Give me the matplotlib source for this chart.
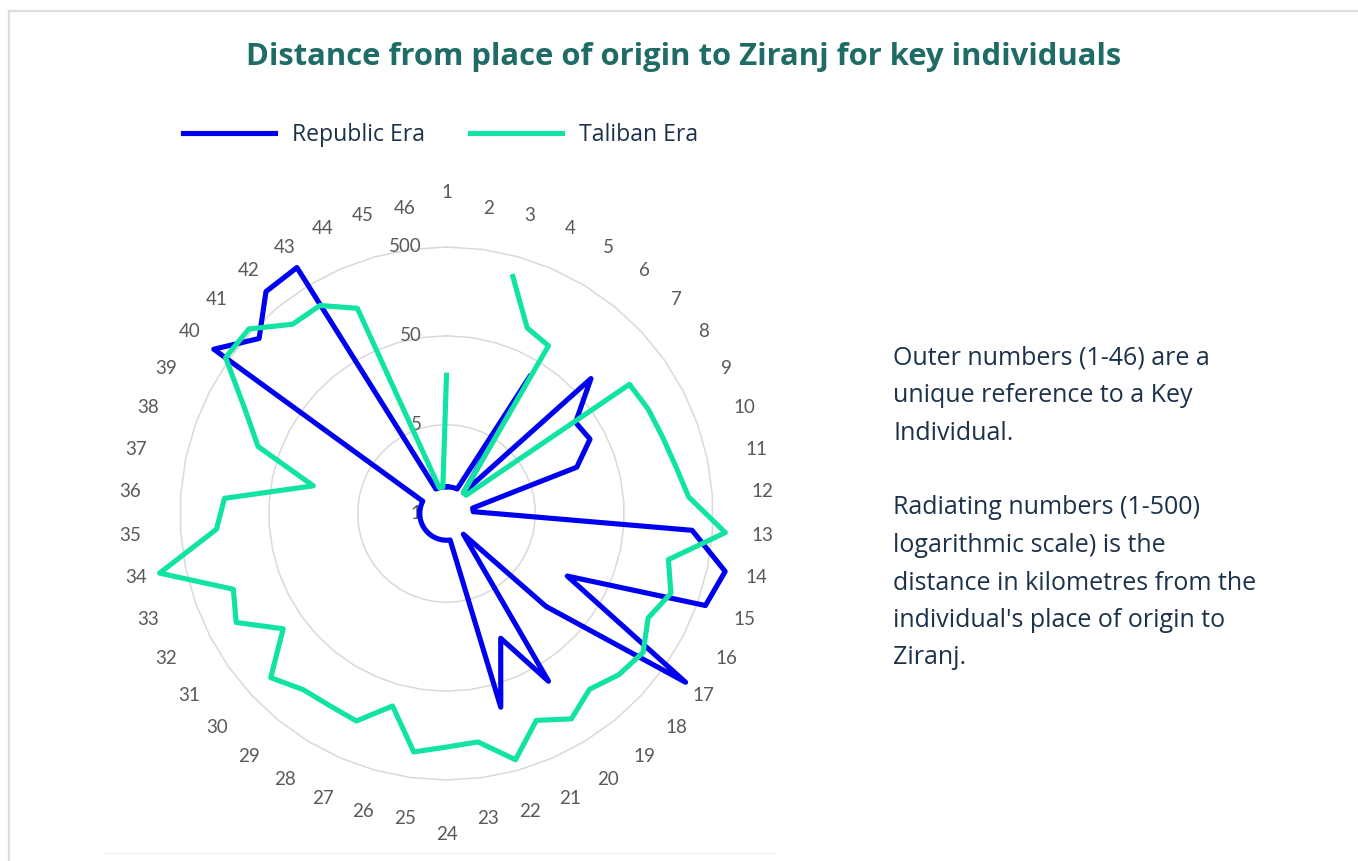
import numpy as np
import matplotlib
matplotlib.use("Agg")
import matplotlib.pyplot as plt
from matplotlib.lines import Line2D

# ---------------- data ----------------
categories = [str(i) for i in range(1, 47)]

republic_era = [1, 1, 1, 1, 33, 1, 84, 30, 33, 18,
                1, 1, 295, 800, 620, 17, 985, 17, 1, 81,
                17, 92, 1, 1, 1, 1, 1, 1, 1, 1,
                1, 1, 1, 1, 1, 1, 1, 1, 1, 805,
                385, 830, 870, 1, 1, 1]

taliban_era = [18, np.nan, 294, 95, 81, 1, 1, 166, 180, 190,
               215, 270, 700, 178, 240, 180, 256, 227, 178, 254,
               173, 378, 197, 213, 256, 89, 176, 170, 180, 255,
               89, 232, 176, 995, 197, 160, 17, 89, 180, 553,
               553, 279, 275, 165, 1, 1]

series_names = ["Republic Era", "Taliban Era"]
radial_ticks = [0.5, 5, 50, 500]
radial_tick_labels = ["1", "5", "50", "500"]

title = "Distance from place of origin to Ziranj for key individuals"
note_lines = ["Outer numbers (1-46) are a",
              "unique reference to a Key",
              "Individual.",
              "",
              "Radiating numbers (1-500)",
              "logarithmic scale) is the",
              "distance in kilometres from the",
              "individual's place of origin to",
              "Ziranj."]

# ---------------- style ----------------
plt.rcParams["font.family"] = ["Lato", "DejaVu Sans"]
UI_FONT = ["Open Sans", "DejaVu Sans"]
BLUE = "#0000f0"
GREEN = "#10e3a2"
GRID = "#d9d9d9"
LABEL = "#595959"
NAVY = "#1c324b"
TEAL = "#1f6b65"

W, H = 1358, 861
fig = plt.figure(figsize=(W / 100, H / 100), dpi=100)
renderer = fig.canvas.get_renderer()


def fit_size(text, target_px, family, weight="normal", base=20.0):
    t = fig.text(0, 0, text, fontsize=base, family=family, fontweight=weight)
    w = t.get_window_extent(renderer).width
    t.remove()
    return base * target_px / w


cx, cy = 446.5, 513.5          # centre of radar in pixels
ppd = 266.5 / 3                # pixels per decade
rmin, rmax = 0.5, 1200
R = ppd * np.log10(rmax / rmin)
ax = fig.add_axes([(cx - R) / W, (H - cy - R) / H, 2 * R / W, 2 * R / H],
                  projection="polar")
ax.set_theta_zero_location("N")
ax.set_theta_direction(-1)
ax.set_rscale("log")
ax.set_rlim(rmin, rmax)
ax.grid(False)
ax.set_xticks([])
ax.set_yticks([])
ax.set_yticks([], minor=True)
ax.spines["polar"].set_visible(False)
ax.patch.set_alpha(0)

n = len(categories)
theta = 2 * np.pi * np.arange(n) / n
theta_c = np.append(theta, 2 * np.pi)

# polygon gridlines
for t in radial_ticks[1:]:
    ax.plot(theta_c, [t] * (n + 1), color=GRID, lw=1.1, zorder=1)

for t, lab in zip(radial_ticks, radial_tick_labels):
    ax.annotate(lab, xy=(0, t), xytext=(-25, 0), textcoords="offset pixels",
                ha="right", va="center", fontsize=13.5, color=LABEL, zorder=2)

# category labels: Excel-like placement (further out at the sides)
for th, c in zip(theta, categories):
    s = abs(np.sin(th))
    rpx = 321 if s < 0.01 else 306 + 11 * s
    ax.text(th, rmin * 10 ** (rpx / ppd), c, ha="center", va="center",
            fontsize=13.5, color=LABEL)

rep = np.append(republic_era, republic_era[0])
tal = np.append(taliban_era, taliban_era[0])
l1, = ax.plot(theta_c, rep, color=BLUE, lw=3.7, zorder=3, clip_on=False,
              solid_joinstyle="round")
l2, = ax.plot(theta_c, tal, color=GREEN, lw=3.7, zorder=4, clip_on=False,
              solid_joinstyle="round")

# legend
leg_fs = fit_size(series_names[0], 133, UI_FONT)
em = leg_fs * 100 / 72
fig.legend([l1, l2], series_names, loc="center left",
           bbox_to_anchor=(183 / W, 1 - 135 / H), ncol=2, frameon=False,
           prop={"family": UI_FONT, "size": leg_fs},
           handlelength=92 / em, handletextpad=17 / em,
           columnspacing=45 / em, borderpad=0, borderaxespad=0,
           labelcolor=NAVY)

# title
title_fs = fit_size(title, 877, UI_FONT, "bold")
fig.text(683.5 / W, 1 - 57 / H, title, ha="center", va="center",
         fontsize=title_fs, fontweight="bold", color=TEAL, family=UI_FONT)

# explanatory note
note_fs = fit_size(note_lines[6], 363, UI_FONT)
y0 = 358
for i, line in enumerate(note_lines):
    fig.text(893 / W, 1 - (y0 + 37.5 * i) / H, line, ha="left", va="center",
             fontsize=note_fs, color=NAVY, family=UI_FONT)

# frame lines
fig.add_artist(Line2D([8.5 / W, 1], [1 - 11 / H, 1 - 11 / H], color="#dcdee4", lw=1.6))
fig.add_artist(Line2D([8.5 / W, 8.5 / W], [0, 1 - 11 / H], color="#dcdee4", lw=1.6))
fig.add_artist(Line2D([103 / W, 775 / W], [1 - 853 / H, 1 - 853 / H], color="#f3f3f3", lw=1))

fig.savefig("out.png", dpi=100)
